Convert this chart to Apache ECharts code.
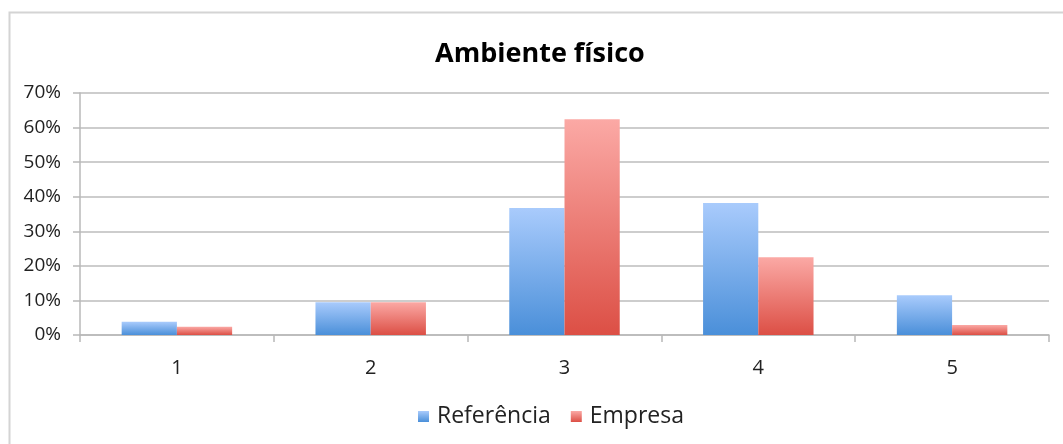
<!DOCTYPE html>
<html>
<head>
<meta charset="utf-8">
<script src="https://cdn.jsdelivr.net/npm/echarts@6/dist/echarts.min.js"></script>
<style>
  html, body { margin: 0; padding: 0; background: #ffffff; }
  #chart { width: 1063px; height: 444px; }
</style>
</head>
<body>
<div id="chart"></div>
<script>
// Ambiente físico — distribution of answers per score (share of respondents)
const categories = ['1', '2', '3', '4', '5'];
const referencia = [3.8, 9.5, 36.7, 38.2, 11.5];
const empresa = [2.4, 9.5, 62.4, 22.5, 2.9];
const yTicks = [0, 10, 20, 30, 40, 50, 60, 70];

const font = '"Open Sans", "DejaVu Sans", sans-serif';

function grad(top, bottom) {
  return new echarts.graphic.LinearGradient(0, 0, 0, 1, [
    { offset: 0, color: top },
    { offset: 1, color: bottom }
  ]);
}

const chart = echarts.init(document.getElementById('chart'), null, { renderer: 'canvas' });

chart.setOption({
  backgroundColor: '#ffffff',
  animation: false,
  graphic: [{
    type: 'rect',
    shape: { x: 9.5, y: 12.5, width: 1100, height: 500 },
    style: { fill: 'none', stroke: '#d4d4d4', lineWidth: 2 },
    silent: true,
    z: -1
  }],
  title: {
    text: 'Ambiente físico',
    left: 430,
    top: 36,
    textStyle: { fontFamily: font, fontWeight: 'bold', fontSize: 27, color: '#000000' }
  },
  legend: {
    data: ['Referência', 'Empresa'],
    left: 413,
    top: 400,
    itemWidth: 11,
    itemHeight: 11,
    itemGap: 20,
    icon: 'rect',
    textStyle: { fontFamily: font, fontSize: 23, color: '#222222', padding: [0, 0, 0, 3] }
  },
  grid: { left: 80, right: 14, top: 93, bottom: 109, containLabel: false },
  xAxis: {
    type: 'category',
    data: categories,
    axisLine: { lineStyle: { color: '#b8b8b8', width: 1.5 } },
    axisTick: { show: true, length: 7, lineStyle: { color: '#b8b8b8', width: 1.5 } },
    axisLabel: { fontFamily: font, fontSize: 20, color: '#222222', margin: 23 },
    splitLine: { show: false }
  },
  yAxis: {
    type: 'value',
    min: yTicks[0],
    max: yTicks[yTicks.length - 1],
    interval: 10,
    axisLine: { show: true, lineStyle: { color: '#b8b8b8', width: 1.5 } },
    axisTick: { show: true, length: 7, lineStyle: { color: '#b8b8b8', width: 1.5 } },
    axisLabel: { fontFamily: font, fontSize: 19, color: '#222222', margin: 19, formatter: '{value}%' },
    splitLine: { show: true, lineStyle: { color: '#bdbdbd', width: 1.5 } }
  },
  series: [
    {
      name: 'Referência',
      type: 'bar',
      data: referencia,
      barGap: '0%',
      barCategoryGap: '43%',
      itemStyle: { color: grad('#a9cbfc', '#4a8fd9') }
    },
    {
      name: 'Empresa',
      type: 'bar',
      data: empresa,
      itemStyle: { color: grad('#fba9a5', '#dc4f45') }
    }
  ]
});
</script>
</body>
</html>
